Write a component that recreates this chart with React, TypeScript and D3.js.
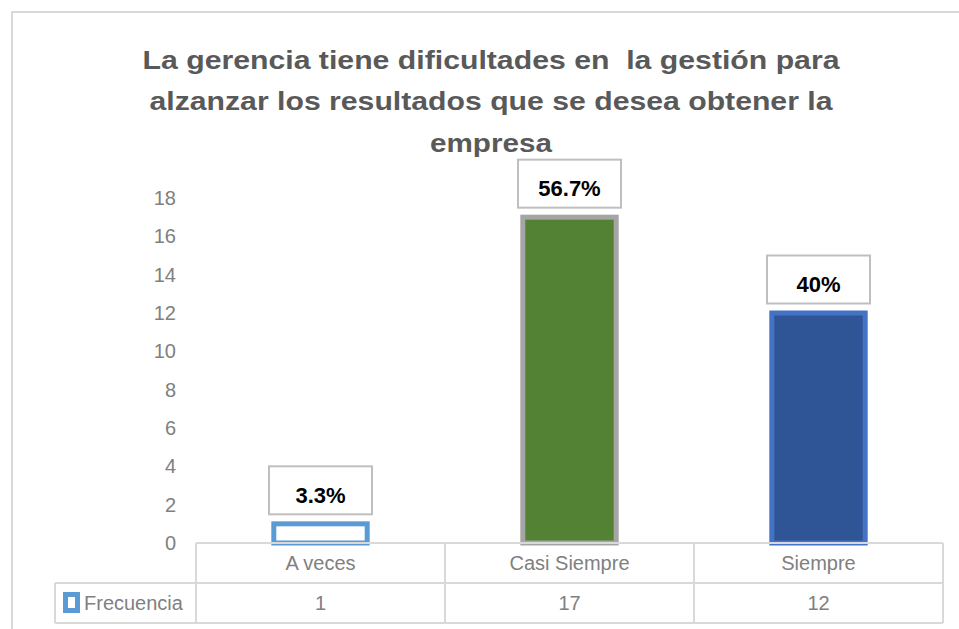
import React from 'react';
import * as d3 from 'd3';

const titleLines = [
  'La gerencia tiene dificultades en  la gestión para',
  'alzanzar los resultados que se desea obtener la',
  'empresa',
];
const categories = ['A veces', 'Casi Siempre', 'Siempre'];
const frecuencia = [1, 17, 12];
const percentLabels = ['3.3%', '56.7%', '40%'];
const yTicks = [0, 2, 4, 6, 8, 10, 12, 14, 16, 18];
const seriesName = 'Frecuencia';

// per-bar look, as in the Excel original
const barFill = ['#ffffff', '#548235', '#2f5597'];
const barStroke = ['#5b9bd5', '#a5a5a5', '#4472c4'];

const W = 959;
const H = 629;
const font = "'Liberation Sans', Arial, sans-serif";
const gridColor = '#d9d9d9';

const App = () => {
  const x = d3.scaleBand<string>().domain(categories).range([196, 943]).padding(0);
  const y = d3.scaleLinear().domain([0, 18]).range([543, 198]);

  const bw = x.bandwidth() * 0.375;
  const rowH = 40;
  const tTop = y(0);
  const legendLeft = 55;
  const titleWidths = [697, 683, 122];
  const titleBase = [69, 110, 152];

  return (
    <svg width={W} height={H} style={{ position: 'absolute', left: 0, top: 0, background: '#fff' }}>
      <rect x={12} y={12} width={W + 20} height={H + 20} fill="#fff" stroke={gridColor} strokeWidth={2} />

      {/* title */}
      {titleLines.map((t, i) => (
        <text
          key={i}
          x={491}
          y={titleBase[i]}
          textAnchor="middle"
          fontFamily={font}
          fontWeight="bold"
          fontSize={26}
          fill="#595959"
          textLength={titleWidths[i]}
          lengthAdjust="spacingAndGlyphs"
          style={{ whiteSpace: 'pre' }}
        >
          {t}
        </text>
      ))}

      {/* y axis labels */}
      {yTicks.map((t) => (
        <text
          key={t}
          x={176}
          y={y(t)}
          dy="0.35em"
          textAnchor="end"
          fontFamily={font}
          fontSize={20}
          fill="#808080"
        >
          {t}
        </text>
      ))}

      {/* bars */}
      {categories.map((c, i) => {
        const cx = (x(c) ?? 0) + x.bandwidth() / 2;
        const top = y(frecuencia[i]);
        return (
          <rect
            key={c}
            x={cx - bw / 2}
            y={top}
            width={bw}
            height={y(0) - top}
            fill={barFill[i]}
            stroke={barStroke[i]}
            strokeWidth={5}
          />
        );
      })}

      {/* data labels */}
      {categories.map((c, i) => {
        const cx = (x(c) ?? 0) + x.bandwidth() / 2;
        const boxW = 103;
        const boxH = 48;
        const bottom = y(frecuencia[i]) - 2.5 - 7;
        return (
          <g key={c}>
            <rect
              x={cx - boxW / 2}
              y={bottom - boxH}
              width={boxW}
              height={boxH}
              fill="#fff"
              stroke="#bfbfbf"
              strokeWidth={2}
            />
            <text
              x={cx}
              y={bottom - boxH / 2 + 5}
              dy="0.35em"
              textAnchor="middle"
              fontFamily={font}
              fontWeight="bold"
              fontSize={22}
              fill="#000"
            >
              {percentLabels[i]}
            </text>
          </g>
        );
      })}

      {/* data table */}
      <g stroke={gridColor} strokeWidth={2} fill="none">
        <line x1={196} x2={943} y1={tTop} y2={tTop} />
        <line x1={legendLeft} x2={943} y1={tTop + rowH} y2={tTop + rowH} />
        <line x1={legendLeft} x2={943} y1={tTop + 2 * rowH} y2={tTop + 2 * rowH} />
        <line x1={legendLeft} x2={legendLeft} y1={tTop + rowH} y2={tTop + 2 * rowH} />
        {categories.map((c) => (
          <line key={c} x1={x(c)} x2={x(c)} y1={tTop} y2={tTop + 2 * rowH} />
        ))}
        <line x1={943} x2={943} y1={tTop} y2={tTop + 2 * rowH} />
      </g>

      {categories.map((c, i) => {
        const cx = (x(c) ?? 0) + x.bandwidth() / 2;
        return (
          <g key={c} fontFamily={font} fontSize={20} fill="#808080" textAnchor="middle">
            <text x={cx} y={tTop + rowH / 2} dy="0.35em">{c}</text>
            <text x={cx} y={tTop + rowH * 1.5} dy="0.35em">{frecuencia[i]}</text>
          </g>
        );
      })}

      {/* legend key */}
      <rect x={65.5} y={594.5} width={12} height={16} fill="#fff" stroke="#5b9bd5" strokeWidth={5} />
      <text x={84} y={tTop + rowH * 1.5} dy="0.35em" fontFamily={font} fontSize={20} fill="#808080">
        {seriesName}
      </text>
    </svg>
  );
};

export default App;
